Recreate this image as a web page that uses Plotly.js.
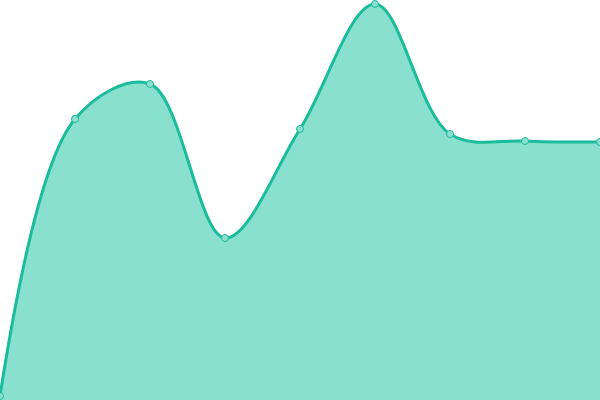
<!DOCTYPE html>
<html>
<head>
<meta charset="utf-8">
<script src="https://cdn.plot.ly/plotly-3.0.1.min.js"></script>
<style>html,body{margin:0;padding:0;background:#fff;}#chart{width:600px;height:400px;}</style>
</head>
<body>
<div id="chart"></div>
<script>
const categories = [0, 1, 2, 3, 4, 5, 6, 7, 8];
const values = [4, 281, 316, 162, 271, 396, 266, 259, 258];

Plotly.newPlot('chart', [{
  x: categories,
  y: values,
  type: 'scatter',
  mode: 'lines+markers',
  fill: 'tozeroy',
  fillcolor: '#89e0cf',
  line: {color: '#1abc9c', width: 3, shape: 'spline', smoothing: 1},
  marker: {size: 7, color: '#8ddece', line: {color: '#1abc9c', width: 1}},
  hoverinfo: 'none'
}], {
  width: 600, height: 400,
  margin: {l: 0, r: 0, t: 0, b: 0},
  paper_bgcolor: '#fff', plot_bgcolor: '#fff',
  showlegend: false,
  xaxis: {range: [0, 8], visible: false, fixedrange: true},
  yaxis: {range: [0, 400], visible: false, fixedrange: true}
}, {displayModeBar: false, staticPlot: true});
</script>
</body>
</html>
